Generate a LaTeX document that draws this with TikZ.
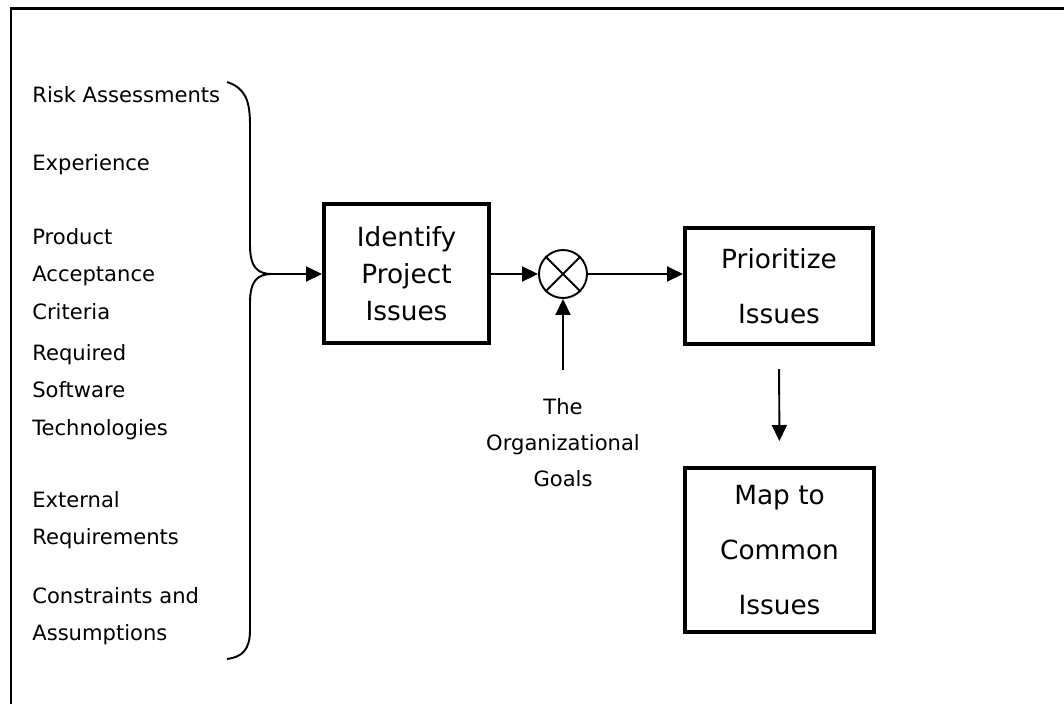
\documentclass[tikz,border=0pt]{standalone}
\usepackage{fontspec}
\setmainfont{DejaVu Sans}
\usetikzlibrary{arrows.meta}
\begin{document}
\begin{tikzpicture}[x=0.02cm,y=-0.02cm,
  box/.style={draw,line width=2.3pt,align=center,inner sep=0pt,font=\fontsize{15}{21}\selectfont},
  item/.style={anchor=west,align=left,inner sep=0pt,font=\fontsize{12}{21.3}\selectfont},
  flow/.style={line width=1.1pt,-{Triangle[length=0.32cm,width=0.3cm]}}]
\useasboundingbox (0,0) rectangle (1064,704);
\draw[line width=1.7pt] (11,704)--(11,8.5)--(1064,8.5);
% inputs
\node[item] (risk) at (32,95) {Risk Assessments};
\node[item] (exper) at (32,165) {Experience};
\node[item] (prod) at (32,274) {Product\\Acceptance\\Criteria};
\node[item] (soft) at (32,392) {Required\\Software\\Technologies};
\node[item] (ext) at (32,520) {External\\Requirements};
\node[item] (cons) at (32,616) {Constraints and\\Assumptions};
\coordinate (brtip) at (272,274);
\draw[line width=1.1pt] (227,82) .. controls (245,88) and (250,100) .. (250,125) -- (250,245)
  .. controls (250,268) and (258,274) .. (brtip)
  .. controls (258,274) and (250,280) .. (250,303) -- (250,630)
  .. controls (250,650) and (242,657) .. (227,659);
% blocks
\node[box,minimum width=3.3cm,minimum height=2.78cm] (idf) at (406.5,273.5) {Identify\\Project\\Issues};
\node[draw,circle,line width=1.1pt,minimum size=0.96cm,inner sep=0pt] (sum) at (563,274) {};
\draw[line width=1.1pt] (sum.45)--(sum.225) (sum.135)--(sum.-45);
\node[box,minimum width=3.76cm,minimum height=2.32cm,font=\fontsize{15}{31.3}\selectfont] (prio) at (779,286) {Prioritize\\Issues};
\node[box,minimum width=3.78cm,minimum height=3.28cm,font=\fontsize{15}{31.3}\selectfont] (map) at (779.5,550) {Map to\\Common\\Issues};
\node[align=center,inner sep=0pt,font=\fontsize{12}{20.5}\selectfont] (goals) at (563,443) {The\\Organizational\\Goals};
\coordinate (gin) at (563,370);
% arrows
\draw[flow] (brtip) -- (idf.west |- brtip);
\draw[flow] (idf.east |- sum) -- (sum.west);
\draw[flow] (sum.east) -- (sum.east -| prio.west);
\draw[flow] (gin) -- (sum.south);
\draw[flow,shorten <=0.46cm,shorten >=0.5cm] (prio.south) -- (map.north);
\end{tikzpicture}
\end{document}
